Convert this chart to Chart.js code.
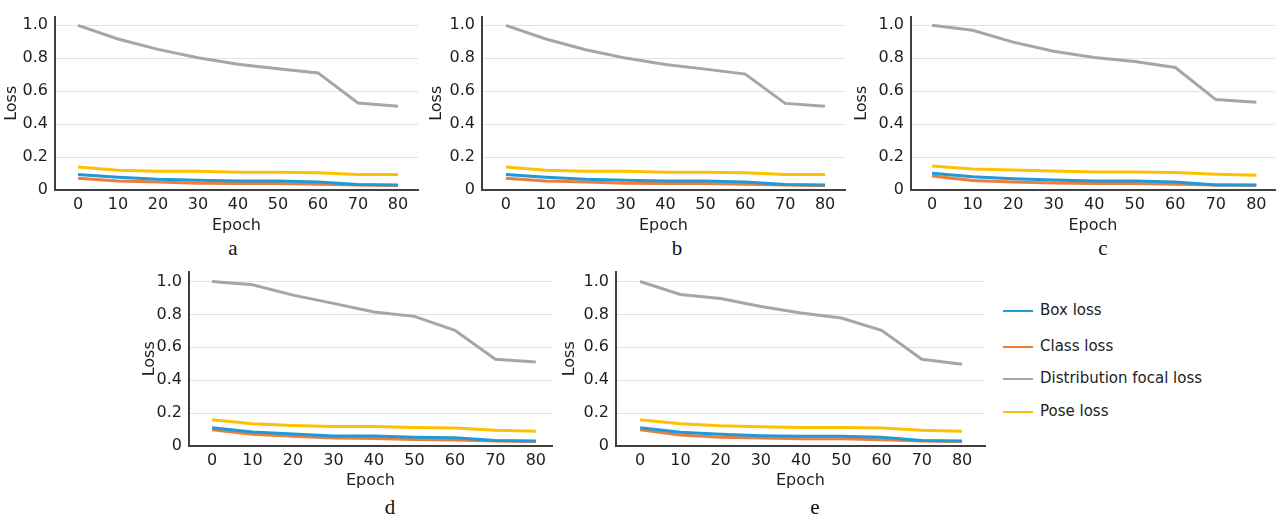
<!DOCTYPE html>
<html>
<head>
<meta charset="utf-8">
<script src="https://cdn.jsdelivr.net/npm/chart.js@4.4.1/dist/chart.umd.min.js"></script>
<style>
  html, body { margin: 0; padding: 0; background: #fff; }
  body { width: 1277px; height: 518px; position: relative; overflow: hidden; }
  .panel { position: absolute; }
  .cap { position: absolute; font-family: "Liberation Serif", serif; font-size: 21px; color: #111; transform: translateX(-50%); line-height: 1; }
  .leg { position: absolute; font-family: "DejaVu Sans", sans-serif; font-size: 15px; color: #222; }
  .leg .ln { position: absolute; width: 30px; height: 2px; }
  .leg .tx { position: absolute; white-space: nowrap; }
</style>
</head>
<body>
<script>
// ---------- data ----------
const epochs = [0, 10, 20, 30, 40, 50, 60, 70, 80];
const xTicks = [0, 10, 20, 30, 40, 50, 60, 70, 80];
const yTicks = [0, 0.2, 0.4, 0.6, 0.8, 1.0];
const seriesNames = ["Box loss", "Class loss", "Distribution focal loss", "Pose loss"];
const seriesColors = ["#1f9ad6", "#f07c3a", "#a6a6a6", "#ffc000"];
const panelCaptions = ["a", "b", "c", "d", "e"];

const boxA   = [0.094, 0.077, 0.065, 0.059, 0.055, 0.055, 0.049, 0.033, 0.030];
const classA = [0.071, 0.055, 0.049, 0.041, 0.039, 0.039, 0.035, 0.031, 0.028];
const dflA   = [1.000, 0.917, 0.854, 0.803, 0.764, 0.736, 0.711, 0.528, 0.508];
const poseA  = [0.140, 0.120, 0.114, 0.114, 0.108, 0.108, 0.104, 0.094, 0.094];

const boxB   = [0.094, 0.077, 0.065, 0.059, 0.055, 0.055, 0.049, 0.033, 0.030];
const classB = [0.071, 0.055, 0.049, 0.041, 0.039, 0.039, 0.035, 0.031, 0.028];
const dflB   = [1.000, 0.917, 0.852, 0.801, 0.762, 0.734, 0.704, 0.526, 0.508];
const poseB  = [0.140, 0.120, 0.114, 0.114, 0.108, 0.108, 0.104, 0.094, 0.094];

const boxC   = [0.102, 0.081, 0.069, 0.061, 0.055, 0.055, 0.049, 0.031, 0.031];
const classC = [0.085, 0.057, 0.049, 0.043, 0.039, 0.039, 0.035, 0.030, 0.029];
const dflC   = [1.000, 0.970, 0.898, 0.843, 0.805, 0.780, 0.744, 0.549, 0.533];
const poseC  = [0.146, 0.128, 0.122, 0.116, 0.110, 0.110, 0.106, 0.096, 0.090];

const boxD   = [0.111, 0.085, 0.073, 0.061, 0.061, 0.053, 0.050, 0.034, 0.030];
const classD = [0.099, 0.071, 0.059, 0.048, 0.046, 0.040, 0.036, 0.031, 0.028];
const dflD   = [1.000, 0.980, 0.917, 0.867, 0.814, 0.788, 0.703, 0.527, 0.511];
const poseD  = [0.160, 0.135, 0.125, 0.119, 0.119, 0.113, 0.109, 0.095, 0.089];

const boxE   = [0.111, 0.083, 0.071, 0.063, 0.059, 0.059, 0.053, 0.034, 0.030];
const classE = [0.099, 0.067, 0.053, 0.048, 0.044, 0.044, 0.038, 0.031, 0.028];
const dflE   = [1.000, 0.921, 0.897, 0.848, 0.808, 0.778, 0.703, 0.527, 0.497];
const poseE  = [0.160, 0.135, 0.123, 0.117, 0.113, 0.113, 0.109, 0.095, 0.089];

// ---------- layout (pixels) ----------
const panels = [
  { series: [boxA, classA, dflA, poseA], left: 0,   top: 0,   w: 425, h: 235, area: { l: 55, r: 418, t: 12, b: 190 }, xMin: -5.75, xMax: 85, yMax: 1.053, cap: { x: 233, y: 238 } },
  { series: [boxB, classB, dflB, poseB], left: 425, top: 0,   w: 425, h: 235, area: { l: 57, r: 420, t: 12, b: 190 }, xMin: -6.0,  xMax: 85, yMax: 1.053, cap: { x: 677, y: 238 } },
  { series: [boxC, classC, dflC, poseC], left: 850, top: 0,   w: 427, h: 235, area: { l: 61, r: 425, t: 12, b: 190 }, xMin: -5.2,  xMax: 84.6, yMax: 1.053, cap: { x: 1103, y: 238 } },
  { series: [boxD, classD, dflD, poseD], left: 140, top: 255, w: 420, h: 235, area: { l: 49, r: 412, t: 13, b: 191 }, xMin: -5.7,  xMax: 84, yMax: 1.06, cap: { x: 390, y: 497 } },
  { series: [boxE, classE, dflE, poseE], left: 560, top: 255, w: 430, h: 235, area: { l: 56, r: 425, t: 13, b: 191 }, xMin: -6.0,  xMax: 85.7, yMax: 1.06, cap: { x: 815, y: 497 } }
];

const FONT = "DejaVu Sans";
const TXT = "#1e1e1e";
const FS = 16;

panels.forEach((p, i) => {
  const wrap = document.createElement("div");
  wrap.className = "panel";
  wrap.style.left = p.left + "px";
  wrap.style.top = p.top + "px";
  wrap.style.width = p.w + "px";
  wrap.style.height = p.h + "px";
  const cv = document.createElement("canvas");
  wrap.appendChild(cv);
  document.body.appendChild(wrap);

  const cap = document.createElement("div");
  cap.className = "cap";
  cap.style.left = p.cap.x + "px";
  cap.style.top = p.cap.y + "px";
  cap.textContent = panelCaptions[i];
  document.body.appendChild(cap);

  const datasets = p.series.map((vals, k) => ({
    label: seriesNames[k],
    data: epochs.map((e, j) => ({ x: e, y: vals[j] })),
    borderColor: seriesColors[k],
    backgroundColor: seriesColors[k],
    borderWidth: 3,
    pointRadius: 0,
    tension: 0,
    fill: false
  }));

  new Chart(cv, {
    type: "line",
    data: { datasets },
    options: {
      responsive: true,
      maintainAspectRatio: false,
      animation: false,
      events: [],
      layout: { padding: { left: 0, top: p.area.t, right: p.w - p.area.r, bottom: 0 } },
      plugins: { legend: { display: false }, tooltip: { enabled: false } },
      scales: {
        x: {
          type: "linear",
          min: p.xMin,
          max: p.xMax,
          afterBuildTicks: s => { s.ticks = xTicks.map(v => ({ value: v })); },
          afterFit: s => { s.height = p.h - p.area.b; },
          grid: { display: false, drawTicks: false },
          border: { display: true, color: "#404040", width: 2 },
          ticks: { color: TXT, font: { family: FONT, size: FS }, padding: 5, maxRotation: 0, autoSkip: false,
                   callback: v => String(v) },
          title: { display: true, text: "Epoch", color: TXT, font: { family: FONT, size: FS }, padding: { top: 0, bottom: 0 } }
        },
        y: {
          type: "linear",
          min: 0,
          max: p.yMax,
          afterBuildTicks: s => { s.ticks = yTicks.map(v => ({ value: v })); },
          afterFit: s => { s.width = p.area.l; },
          grid: { color: "#e2e2e2", lineWidth: 1, drawTicks: false },
          border: { display: true, color: "#404040", width: 2 },
          ticks: { color: TXT, font: { family: FONT, size: FS }, padding: 7,
                   callback: v => (v === 0 ? "0" : Number(v).toFixed(1)) },
          title: { display: true, text: "Loss", color: TXT, font: { family: FONT, size: FS }, padding: { top: i >= 3 ? 0 : 2, bottom: 0 } }
        }
      }
    }
  });
});

// ---------- legend ----------
const legendTop = [311, 347, 379, 412];
seriesNames.forEach((name, k) => {
  const d = document.createElement("div");
  d.className = "leg";
  d.style.left = "1003px";
  d.style.top = legendTop[k] + "px";
  const ln = document.createElement("div");
  ln.className = "ln";
  ln.style.left = "0px";
  ln.style.top = "-1px";
  ln.style.background = seriesColors[k];
  const tx = document.createElement("div");
  tx.className = "tx";
  tx.style.left = "37px";
  tx.style.top = "-10px";
  tx.textContent = name;
  d.appendChild(ln);
  d.appendChild(tx);
  document.body.appendChild(d);
});
</script>
</body>
</html>
